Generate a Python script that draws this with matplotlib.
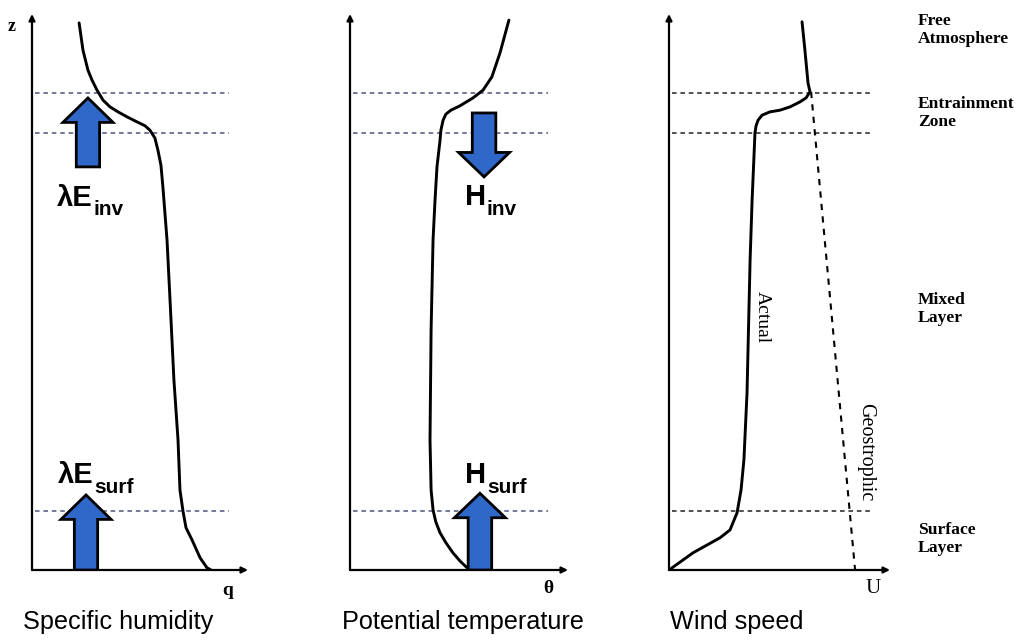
import matplotlib
matplotlib.use('Agg')
import matplotlib.pyplot as plt
from matplotlib.patches import FancyArrow

# layer heights (normalised z): top / bottom of entrainment zone, top of surface layer
layer_z = [0.858, 0.786, 0.106]

# specific humidity profile
q_x = [0.218, 0.236, 0.259, 0.278, 0.301, 0.329, 0.361, 0.398, 0.440, 0.486, 0.523,
       0.546, 0.569, 0.583, 0.597, 0.606, 0.625, 0.639, 0.657, 0.676, 0.685, 0.699,
       0.713, 0.741, 0.778, 0.810, 0.829]
q_z = [0.984, 0.935, 0.899, 0.881, 0.863, 0.845, 0.833, 0.824, 0.815, 0.806, 0.799,
       0.791, 0.777, 0.755, 0.728, 0.689, 0.594, 0.486, 0.342, 0.234, 0.144, 0.106,
       0.076, 0.054, 0.022, 0.004, 0.0]

# potential temperature profile
th_x = [0.729, 0.688, 0.651, 0.610, 0.564, 0.505, 0.463, 0.440, 0.427, 0.417, 0.413,
        0.399, 0.390, 0.381, 0.372, 0.367, 0.372, 0.381, 0.394, 0.413, 0.440, 0.472,
        0.505, 0.537, 0.550]
th_z = [0.989, 0.930, 0.887, 0.863, 0.849, 0.835, 0.827, 0.820, 0.809, 0.791, 0.773,
        0.725, 0.665, 0.594, 0.432, 0.234, 0.144, 0.108, 0.086, 0.067, 0.049, 0.031,
        0.016, 0.004, 0.0]

# wind speed: actual and geostrophic
u_x = [0.602, 0.615, 0.629, 0.638, 0.620, 0.593, 0.548, 0.502, 0.457, 0.421, 0.403,
       0.394, 0.389, 0.376, 0.367, 0.353, 0.339, 0.326, 0.308, 0.276, 0.231, 0.109, 0.0]
u_z = [0.986, 0.935, 0.876, 0.860, 0.849, 0.842, 0.833, 0.827, 0.824, 0.818, 0.809,
       0.799, 0.786, 0.665, 0.558, 0.318, 0.198, 0.144, 0.103, 0.072, 0.058, 0.031, 0.0]
ug_x = [0.643, 0.842]
ug_z = [0.860, 0.0]

# flux arrows: (x, z_tail, z_tip)
q_fluxes = [(0.259, 0.725, 0.849), (0.250, 0.0, 0.135)]
th_fluxes = [(0.615, 0.822, 0.707), (0.596, 0.0, 0.138)]

panel_titles = ['Specific humidity', 'Potential temperature', 'Wind speed']
layer_names = ['Free\nAtmosphere', 'Entrainment\nZone', 'Mixed\nLayer', 'Surface\nLayer']
layer_name_z = [0.971, 0.822, 0.469, 0.056]

W, H = 1022, 641
blue = '#2f68c8'
sans = 'Liberation Sans'
serif = 'Liberation Serif'

fig = plt.figure(figsize=(W / 100, H / 100), dpi=100)
fig.patch.set_facecolor('white')

lefts = [32, 350, 669]
widths = [216, 218, 221]
axes = []
for left, width in zip(lefts, widths):
    ax = fig.add_axes([left / W, (H - 570) / H, width / W, 556 / H])
    ax.set_xlim(0, 1)
    ax.set_ylim(0, 1)
    ax.axis('off')
    # axes drawn as arrows
    ax.annotate('', xy=(0, 1), xytext=(0, 0), xycoords='axes fraction',
                arrowprops=dict(arrowstyle='-|>', lw=1.6, color='black',
                                mutation_scale=9, shrinkA=0, shrinkB=0))
    ax.annotate('', xy=(1, 0), xytext=(0, 0), xycoords='axes fraction',
                arrowprops=dict(arrowstyle='-|>', lw=1.6, color='black',
                                mutation_scale=9, shrinkA=0, shrinkB=0))
    axes.append(ax)

ax1, ax2, ax3 = axes

for ax, col in zip(axes, ['#4f557f', '#4f557f', '#222222']):
    ax.hlines(layer_z, 0.012, 0.91, colors=col, lw=1.1, linestyles=(0, (3, 2.5)))

ax1.plot(q_x, q_z, color='black', lw=2.1, solid_capstyle='round', solid_joinstyle='round')
ax2.plot(th_x, th_z, color='black', lw=2.1, solid_capstyle='round', solid_joinstyle='round')
ax3.plot(u_x, u_z, color='black', lw=2.1, solid_capstyle='round', solid_joinstyle='round')
ax3.plot(ug_x, ug_z, color='black', lw=1.5, linestyle=(0, (3, 3)))


def flux_arrow(ax, x, z0, z1, shaft, head):
    a = FancyArrow(x, z0, 0, z1 - z0, width=shaft, head_width=head,
                   head_length=0.044, length_includes_head=True,
                   facecolor=blue, edgecolor='black', lw=2.0, zorder=3)
    ax.add_patch(a)


for (x, z0, z1) in q_fluxes:
    flux_arrow(ax1, x, z0, z1, 0.108, 0.232)
for (x, z0, z1) in th_fluxes:
    flux_arrow(ax2, x, z0, z1, 0.108, 0.234)


def flux_label(ax, x, z, main, sub):
    t = ax.text(x, z, main, fontsize=21, fontweight='bold', family=sans,
                ha='left', va='baseline')
    ax.annotate(sub, xy=(1, 0), xycoords=t, xytext=(0.5, -2.5),
                textcoords='offset points', fontsize=15, fontweight='bold',
                family=sans, ha='left', va='baseline')


flux_label(ax1, 0.116, 0.655, 'λE', 'inv')
flux_label(ax1, 0.120, 0.156, 'λE', 'surf')
flux_label(ax2, 0.528, 0.656, 'H', 'inv')
flux_label(ax2, 0.528, 0.156, 'H', 'surf')

# axis letters
ax1.text(-0.093, 0.977, 'z', fontsize=13, fontweight='bold', family=serif,
         ha='center', va='center')
ax1.text(0.907, -0.036, 'q', fontsize=14, fontweight='bold', family=serif,
         ha='center', va='center')
ax2.text(0.908, -0.034, 'θ', fontsize=14, fontweight='bold', family=serif,
         ha='center', va='center')
ax3.text(0.923, -0.034, 'U', fontsize=15, family=serif, ha='center', va='center')

# wind profile labels
ax3.text(0.421, 0.455, 'Actual', fontsize=14, family=serif, rotation=-90,
         ha='center', va='center')
ax3.text(0.891, 0.212, 'Geostrophic', fontsize=14.5, family=serif, rotation=-90,
         ha='center', va='center')

for name, z in zip(layer_names, layer_name_z):
    ax3.text(1.127, z, name, fontsize=12.6, fontweight='bold', family=serif,
             ha='left', va='center', linespacing=1.15)

for ax, title, x in zip(axes, panel_titles, [-0.042, -0.037, 0.005]):
    ax.text(x, -0.094, title, fontsize=18.2, family=sans, ha='left', va='center')

fig.savefig('out.png', dpi=100, facecolor='white')
